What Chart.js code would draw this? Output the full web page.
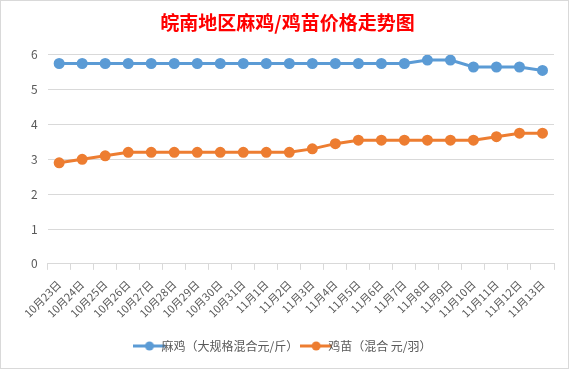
<!DOCTYPE html>
<html>
<head>
<meta charset="utf-8">
<script src="https://cdn.jsdelivr.net/npm/chart.js@4"></script>
<style>
  html, body { margin: 0; padding: 0; background: #fff; }
  #wrap { position: relative; width: 567px; height: 367px; border: 1px solid #d9d9d9; }
</style>
</head>
<body>
<div id="wrap"><canvas id="priceChart" width="567" height="367"></canvas></div>
<script>
// 日期
var dates = ["10月23日", "10月24日", "10月25日", "10月26日", "10月27日", "10月28日", "10月29日",
    "10月30日", "10月31日", "11月1日", "11月2日", "11月3日", "11月4日", "11月5日", "11月6日",
    "11月7日", "11月8日", "11月9日", "11月10日", "11月11日", "11月12日", "11月13日"];

// 麻鸡（大规格混合元/斤）
var majiPrice = [5.75, 5.75, 5.75, 5.75, 5.75, 5.75, 5.75, 5.75, 5.75, 5.75, 5.75,
    5.75, 5.75, 5.75, 5.75, 5.75, 5.85, 5.85, 5.65, 5.65, 5.65, 5.55];

// 鸡苗（混合 元/羽）
var jimiaoPrice = [2.9, 3.0, 3.1, 3.2, 3.2, 3.2, 3.2, 3.2, 3.2, 3.2, 3.2,
    3.3, 3.45, 3.55, 3.55, 3.55, 3.55, 3.55, 3.55, 3.65, 3.75, 3.75];

var yTicks = [0, 1, 2, 3, 4, 5, 6];

var blue = "#5B9BD5";
var orange = "#ED7D31";
var font = "'Noto Sans CJK SC', 'Microsoft YaHei', sans-serif";

// legend icon: line with a dot in the middle
function legendIcon(color) {
    var c = document.createElement("canvas");
    c.width = 32;
    c.height = 10;
    var g = c.getContext("2d");
    g.strokeStyle = color;
    g.lineWidth = 3;
    g.beginPath();
    g.moveTo(0, 5);
    g.lineTo(32, 5);
    g.stroke();
    g.fillStyle = color;
    g.beginPath();
    g.arc(16, 5, 4.5, 0, Math.PI * 2);
    g.fill();
    return c;
}

var icons = [legendIcon(blue), legendIcon(orange)];

new Chart(document.getElementById("priceChart"), {
    type: "line",
    data: {
        labels: dates,
        datasets: [{
            label: "麻鸡（大规格混合元/斤）",
            data: majiPrice,
            borderColor: blue,
            backgroundColor: blue,
            borderWidth: 3,
            pointRadius: 4,
            pointHoverRadius: 4,
            tension: 0
        }, {
            label: "鸡苗（混合 元/羽）",
            data: jimiaoPrice,
            borderColor: orange,
            backgroundColor: orange,
            borderWidth: 3,
            pointRadius: 4,
            pointHoverRadius: 4,
            tension: 0
        }]
    },
    options: {
        responsive: false,
        animation: false,
        layout: { padding: { left: 20, right: 14, top: 4, bottom: 6 } },
        plugins: {
            title: {
                display: true,
                text: "皖南地区麻鸡/鸡苗价格走势图",
                color: "#FF0000",
                font: { family: font, size: 19, weight: "bold" },
                padding: { top: 6, bottom: 21 }
            },
            legend: {
                position: "bottom",
                labels: {
                    color: "#595959",
                    font: { family: font, size: 12 },
                    usePointStyle: true,
                    boxWidth: 32,
                    boxHeight: 10,
                    padding: 12,
                    generateLabels: function(chart) {
                        var items = Chart.defaults.plugins.legend.labels.generateLabels(chart);
                        items.forEach(function(it, i) { it.pointStyle = icons[i]; });
                        return items;
                    }
                }
            },
            tooltip: { enabled: false }
        },
        scales: {
            x: {
                offset: true,
                grid: {
                    display: true,
                    drawOnChartArea: false,
                    offset: true,
                    tickLength: 6,
                    color: "#d9d9d9"
                },
                border: { color: "#d9d9d9" },
                ticks: {
                    color: "#595959",
                    font: { family: font, size: 11 },
                    maxRotation: 45,
                    minRotation: 45,
                    autoSkip: false,
                    padding: 8
                }
            },
            y: {
                min: 0,
                max: 6,
                afterBuildTicks: function(axis) {
                    axis.ticks = yTicks.map(function(v) { return { value: v }; });
                },
                grid: { color: "#d9d9d9", drawTicks: false },
                border: { display: false },
                ticks: {
                    color: "#595959",
                    font: { family: font, size: 12 },
                    padding: 10
                }
            }
        }
    }
});
</script>
</body>
</html>
